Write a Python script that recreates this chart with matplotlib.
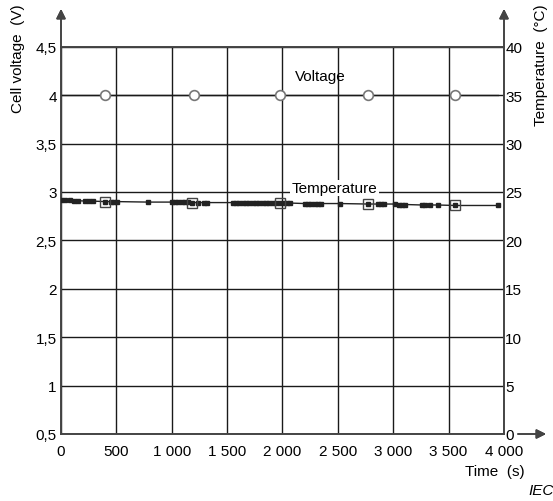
import numpy as np
import matplotlib.pyplot as plt
from matplotlib.ticker import FuncFormatter

plt.rcParams['font.family'] = ['Liberation Sans', 'DejaVu Sans']

# voltage readings (circles) - time in s, cell voltage in V
volt_time = [0, 400, 1200, 1980, 2770, 3560, 3950]
volt_val = [4.0, 4.0, 4.0, 4.0, 4.0, 4.0, 4.0]
volt_mark_time = [400, 1200, 1980, 2770, 3560]
volt_mark_val = [4.0, 4.0, 4.0, 4.0, 4.0]

# temperature readings, degC
temp_time = [0, 40, 80, 120, 150, 220, 250, 290, 400, 450, 480, 510,
             790, 1000, 1030, 1060, 1090, 1120, 1150, 1180, 1240, 1290, 1320,
             1550, 1580, 1610, 1640, 1670, 1700, 1730, 1760, 1790, 1820,
             1850, 1880, 1910, 1940, 1980, 2010, 2040, 2070, 2200, 2230,
             2260, 2290, 2320, 2350, 2520, 2770, 2860, 2890, 2920, 3020,
             3050, 3080, 3110, 3260, 3290, 3330, 3400, 3560, 3950]
temp_val = [24.15, 24.15, 24.15, 24.1, 24.1, 24.05, 24.05, 24.05, 24.0, 24.0,
            24.0, 24.0, 23.95, 23.95, 23.95, 23.95, 23.95, 23.95, 23.95, 23.9,
            23.9, 23.9, 23.9, 23.9, 23.9, 23.9, 23.9, 23.9, 23.9,
            23.85, 23.85, 23.85, 23.85, 23.85, 23.85, 23.85, 23.85, 23.85,
            23.85, 23.85, 23.85, 23.8, 23.8, 23.8, 23.8, 23.8, 23.8, 23.8,
            23.75, 23.75, 23.75, 23.75, 23.75, 23.7, 23.7, 23.7, 23.65, 23.65,
            23.65, 23.65, 23.6, 23.6]
temp_mark_time = [400, 1180, 1980, 2770, 3560]
temp_mark_val = [24.0, 23.9, 23.85, 23.75, 23.6]

x_ticks = [0, 500, 1000, 1500, 2000, 2500, 3000, 3500, 4000]
v_ticks = [0.5, 1, 1.5, 2, 2.5, 3, 3.5, 4, 4.5]
t_ticks = [0, 5, 10, 15, 20, 25, 30, 35, 40]

fig = plt.figure(figsize=(5.53, 5.02), dpi=100)
ax = fig.add_axes([0.1103, 0.1335, 0.801, 0.7715])
ax2 = ax.twinx()

ax.set_xlim(0, 4000)
ax.set_ylim(0.5, 4.5)
ax2.set_ylim(0, 40)
ax.set_xticks(x_ticks)
ax.set_yticks(v_ticks)
ax2.set_yticks(t_ticks)

def fmt_comma(v, pos):
    s = ('%g' % v).replace('.', ',')
    return s

def fmt_thousand(v, pos):
    return ('{:,.0f}'.format(v)).replace(',', ' ')

ax.xaxis.set_major_formatter(FuncFormatter(fmt_thousand))
ax.yaxis.set_major_formatter(FuncFormatter(fmt_comma))
ax2.yaxis.set_major_formatter(FuncFormatter(fmt_comma))

ax.grid(True, color='#1a1a1a', linewidth=1.0)
ax.tick_params(axis='both', length=0, labelsize=11, colors='black')
ax.tick_params(axis='y', pad=3)
ax.tick_params(axis='x', pad=7)
ax2.tick_params(axis='y', length=0, labelsize=11, pad=1)

for a in (ax, ax2):
    for s in a.spines.values():
        s.set_color('#444444')
        s.set_linewidth(1.2)

# series
ax.plot(volt_time, volt_val, color='#1a1a1a', linewidth=1.0, zorder=3)
ax.plot(volt_mark_time, volt_mark_val, linestyle='none', marker='o',
        markersize=7, markerfacecolor='white', markeredgecolor='#777777',
        markeredgewidth=1.2, zorder=4)
ax2.plot(temp_time, temp_val, color='#222222', linewidth=1.0,
         marker='s', markersize=2.3, markerfacecolor='#222222',
         markeredgecolor='#222222', zorder=3)
ax2.plot(temp_mark_time, temp_mark_val, linestyle='none', marker='s',
         markersize=7, markerfacecolor='none', markeredgecolor='#444444',
         markeredgewidth=1.0, zorder=4)

ax.text(2340, 4.2, 'Voltage', fontsize=11, ha='center', va='center')
ax2.text(2470, 25.4, 'Temperature', fontsize=11, ha='center', va='center',
         bbox=dict(facecolor='white', edgecolor='none', pad=1))

# axis arrows
arrow = dict(arrowstyle='-|>', color='#444444', lw=1.2, mutation_scale=14,
             shrinkA=0, shrinkB=0)
fig.add_artist(plt.annotate('', xy=(61 / 553, 1 - 10 / 502),
                            xytext=(61 / 553, 1 - 48 / 502),
                            xycoords='figure fraction', arrowprops=arrow))
fig.add_artist(plt.annotate('', xy=(504 / 553, 1 - 10 / 502),
                            xytext=(504 / 553, 1 - 48 / 502),
                            xycoords='figure fraction', arrowprops=arrow))
fig.add_artist(plt.annotate('', xy=(546 / 553, 1 - 435 / 502),
                            xytext=(518 / 553, 1 - 435 / 502),
                            xycoords='figure fraction', arrowprops=arrow))

fig.text(18 / 553, 1 - 4 / 502, 'Cell voltage  (V)', rotation=90,
         ha='center', va='top', fontsize=11)
fig.text(541 / 553, 1 - 4 / 502, 'Temperature  (°C)', rotation=90,
         ha='center', va='top', fontsize=11)
fig.text(495 / 553, 1 - 472 / 502, 'Time  (s)', ha='center', va='center',
         fontsize=11)
fig.text(528 / 553, 1 - 491 / 502, 'IEC', ha='left', va='center',
         fontsize=11, style='italic')

fig.savefig('out.png', dpi=100)
